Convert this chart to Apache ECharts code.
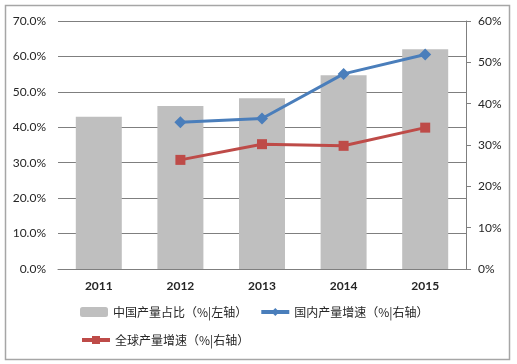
<!DOCTYPE html>
<html><head><meta charset="utf-8">
<script src="https://cdn.jsdelivr.net/npm/echarts@6/dist/echarts.min.js"></script>
<style>html,body{margin:0;padding:0;background:#fff;}#c{width:517px;height:364px;}</style>
</head><body><div id="c"></div>
<script>
const categories = ['2011','2012','2013','2014','2015'];
const chinaShare = [43.0, 46.0, 48.2, 54.7, 62.0];
const domesticGrowth = [null, 35.5, 36.4, 47.2, 51.9];
const globalGrowth = [null, 26.4, 30.2, 29.8, 34.2];
const leftTicks = [0,10,20,30,40,50,60,70];
const rightTicks = [0,10,20,30,40,50,60];
const names = ['中国产量占比（%|左轴）','国内产量增速（%|右轴）','全球产量增速（%|右轴）'];

const chart = echarts.init(document.getElementById('c'));
const lab = {fontFamily:'Lato', fontSize:12, color:'#262626'};
const legText = {fontFamily:'Noto Sans CJK SC', fontSize:12, color:'#262626'};
chart.setOption({
  animation:false,
  graphic:[{type:'rect', shape:{x:5.5,y:5.5,width:504,height:354}, style:{fill:'none', stroke:'#a6a6a6', lineWidth:1.5}, silent:true}],
  grid:{left:58, right:51, top:21, bottom:95},
  legend:[
    {data:[names[0], names[1]], left:80, top:306, itemWidth:28, itemHeight:10, itemGap:12, textStyle:legText, padding:0,
      lineStyle:{width:4}},
    {data:[names[2]], left:80, top:334, itemWidth:28, itemHeight:10, textStyle:legText, padding:0,
      lineStyle:{width:4}}
  ],
  xAxis:{type:'category', data:categories,
    axisLine:{lineStyle:{color:'#7f7f7f', width:1}}, axisTick:{show:false},
    axisLabel:Object.assign({margin:11, fontWeight:'bold'}, lab)},
  yAxis:[
    {type:'value', min:leftTicks[0], max:leftTicks[leftTicks.length-1], interval:10,
      axisLine:{show:false}, axisTick:{show:false},
      splitLine:{lineStyle:{color:'#7f7f7f', width:1}},
      axisLabel:Object.assign({margin:12, formatter:v=>v.toFixed(1)+'%'}, lab)},
    {type:'value', position:'right', min:rightTicks[0], max:rightTicks[rightTicks.length-1], interval:10,
      axisLine:{show:true, lineStyle:{color:'#7f7f7f'}}, axisTick:{show:true, length:5, lineStyle:{color:'#7f7f7f'}},
      splitLine:{show:false},
      axisLabel:Object.assign({margin:12, formatter:v=>v+'%'}, lab)}
  ],
  series:[
    {name:names[0], type:'bar', data:chinaShare, yAxisIndex:0, barWidth:46, itemStyle:{color:'#bfbfbf'}},
    {name:names[1], type:'line', data:domesticGrowth, yAxisIndex:1, symbol:'diamond', symbolSize:12,
      lineStyle:{color:'#4a7ebb', width:3}, itemStyle:{color:'#4a7ebb'}},
    {name:names[2], type:'line', data:globalGrowth, yAxisIndex:1, symbol:'rect', symbolSize:10,
      lineStyle:{color:'#be4b48', width:3}, itemStyle:{color:'#be4b48'}}
  ]
});
</script></body></html>
